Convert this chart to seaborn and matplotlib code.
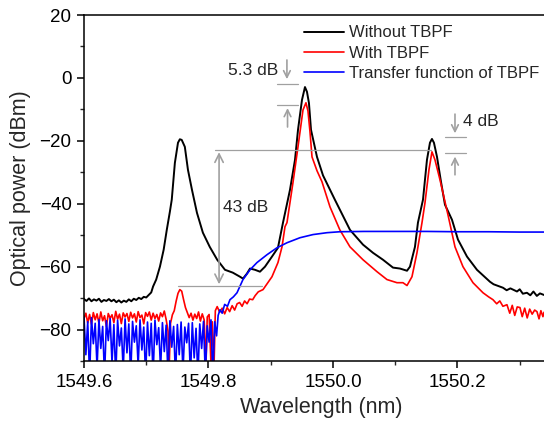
#!/usr/bin/env python3
"""
Optical spectra with and without the tunable band-pass filter (TBPF),
plus the TBPF transfer function, with power-difference annotations.
"""

import matplotlib.pyplot as plt
from matplotlib.ticker import MultipleLocator
import seaborn as sns

# ---- data ----
wl_black = [
    1549.600, 1549.604, 1549.608, 1549.612, 1549.616, 1549.620, 1549.624, 1549.628,
    1549.632, 1549.636, 1549.640, 1549.644, 1549.648, 1549.652, 1549.656, 1549.660,
    1549.664, 1549.668, 1549.672, 1549.676, 1549.680, 1549.684, 1549.688, 1549.692,
    1549.696, 1549.700, 1549.704, 1549.708, 1549.711, 1549.716, 1549.722, 1549.728,
    1549.733, 1549.738, 1549.741, 1549.746, 1549.751, 1549.754, 1549.757, 1549.762,
    1549.767, 1549.7735, 1549.7815, 1549.791, 1549.802, 1549.814, 1549.8265, 1549.839,
    1549.8506, 1549.8554, 1549.8618, 1549.8667, 1549.8747, 1549.8827, 1549.8908, 1549.902,
    1549.9116, 1549.9197, 1549.9309, 1549.939, 1549.9438, 1549.9502, 1549.955, 1549.9582,
    1549.9614, 1549.9647, 1549.9743, 1549.984, 1550.003, 1550.0273, 1550.0482, 1550.0643,
    1550.0803, 1550.0964, 1550.1076, 1550.1189, 1550.1237, 1550.1317, 1550.1365, 1550.1446,
    1550.151, 1550.1558, 1550.159, 1550.1622, 1550.1671, 1550.1735, 1550.1799, 1550.1912,
    1550.2008, 1550.2153, 1550.2313, 1550.2522, 1550.258, 1550.2731, 1550.279, 1550.285,
    1550.2956, 1550.300, 1550.305, 1550.3116, 1550.317, 1550.322, 1550.3275, 1550.3325,
    1550.339,
]
p_black = [
    -70.3, -70.9, -70.1, -71.0, -70.4, -70.8, -70.2, -71.2,
    -70.6, -70.9, -70.3, -71.0, -70.5, -71.3, -70.7, -71.4,
    -70.8, -71.2, -70.4, -71.0, -70.2, -70.6, -69.9, -70.3,
    -69.6, -69.8, -69.0, -68.2, -66.3, -64.1, -60.0, -54.6,
    -48.3, -42.5, -38.7, -27.0, -20.6, -19.5, -19.7, -21.9,
    -29.2, -35.6, -42.9, -49.2, -53.7, -57.8, -61.0, -61.9,
    -63.2, -63.8, -62.2, -60.6, -61.0, -61.6, -60.0, -56.8,
    -54.0, -46.0, -35.6, -26.0, -16.5, -7.0, -2.9, -4.4,
    -8.0, -16.5, -25.1, -31.0, -38.7, -48.3, -53.0, -55.6,
    -57.8, -60.3, -60.6, -61.3, -60.0, -53.7, -46.0, -38.7,
    -26.0, -20.6, -19.4, -20.6, -25.1, -33.0, -40.3, -45.1,
    -51.4, -56.8, -61.0, -64.8, -65.6, -66.7, -67.5, -66.9,
    -67.9, -67.2, -68.6, -68.3, -69.1, -67.9, -69.3, -68.5,
    -69.0,
]

wl_red = [
    1549.600, 1549.603, 1549.606, 1549.609, 1549.612, 1549.615, 1549.618, 1549.621,
    1549.624, 1549.627, 1549.630, 1549.633, 1549.636, 1549.639, 1549.642, 1549.645,
    1549.648, 1549.651, 1549.654, 1549.657, 1549.660, 1549.663, 1549.666, 1549.669,
    1549.672, 1549.675, 1549.678, 1549.681, 1549.684, 1549.687, 1549.690, 1549.693,
    1549.696, 1549.699, 1549.702, 1549.705, 1549.708, 1549.711, 1549.714, 1549.717,
    1549.720, 1549.723, 1549.726, 1549.729, 1549.732, 1549.735, 1549.737, 1549.739,
    1549.742, 1549.745, 1549.748, 1549.751, 1549.754, 1549.757, 1549.760, 1549.763,
    1549.766, 1549.769, 1549.772, 1549.775, 1549.778, 1549.781, 1549.784, 1549.787,
    1549.790, 1549.793, 1549.796, 1549.798, 1549.801, 1549.804, 1549.806, 1549.809,
    1549.811, 1549.814, 1549.818, 1549.822, 1549.826, 1549.830, 1549.834, 1549.838,
    1549.842, 1549.846, 1549.850, 1549.854, 1549.858, 1549.862, 1549.866, 1549.871,
    1549.875, 1549.880, 1549.8876, 1549.894, 1549.902, 1549.9116, 1549.9181, 1549.9229,
    1549.9261, 1549.9357, 1549.9438, 1549.9518, 1549.9566, 1549.9598, 1549.963, 1549.9663,
    1549.9743, 1549.9823, 1549.9952, 1550.011, 1550.0273, 1550.0482, 1550.0707, 1550.0867,
    1550.1028, 1550.1124, 1550.1189, 1550.1269, 1550.1349, 1550.143, 1550.1478, 1550.1542,
    1550.159, 1550.1638, 1550.1719, 1550.1847, 1550.196, 1550.2088, 1550.2249, 1550.241,
    1550.250, 1550.257, 1550.263, 1550.268, 1550.273, 1550.2795, 1550.284, 1550.288,
    1550.292, 1550.296, 1550.3004, 1550.304, 1550.308, 1550.312, 1550.316, 1550.320,
    1550.324, 1550.3277, 1550.331, 1550.334, 1550.3373, 1550.339,
]
p_red = [
    -76.5, -74.8, -77.9, -75.2, -78.3, -74.6, -76.9, -75.0,
    -78.0, -74.4, -77.2, -75.6, -79.0, -74.9, -76.4, -75.3,
    -77.8, -74.2, -76.7, -75.1, -78.1, -74.7, -76.0, -74.9,
    -77.4, -74.5, -76.3, -75.0, -77.6, -74.3, -76.2, -75.4,
    -78.2, -74.6, -75.8, -74.4, -77.0, -74.8, -76.5, -75.2,
    -77.3, -74.7, -75.9, -74.1, -76.8, -80.5, -91.0, -78.0,
    -75.3, -74.0, -71.0, -68.5, -67.3, -67.8, -70.5, -73.0,
    -74.6, -76.2, -74.8, -77.0, -75.1, -76.5, -74.4, -77.3,
    -75.0, -76.9, -91.0, -76.0, -75.2, -91.0, -77.5, -91.0,
    -74.0, -72.7, -74.5, -73.2, -75.0, -73.0, -74.3, -72.4,
    -73.8, -71.8, -71.4, -72.6, -70.9, -71.8, -70.3, -70.5,
    -69.2, -68.0, -67.3, -65.5, -63.2, -58.7, -53.7, -47.3,
    -46.0, -33.3, -21.9, -10.2, -7.9, -10.5, -17.0, -25.1,
    -29.5, -33.0, -41.0, -48.3, -53.7, -57.8, -61.6, -64.1,
    -65.1, -65.1, -66.0, -63.2, -55.6, -46.0, -39.7, -29.2,
    -23.5, -26.0, -32.4, -43.5, -53.7, -60.0, -65.1, -68.3,
    -69.6, -70.5, -71.8, -70.9, -72.6, -72.1, -74.8, -72.3,
    -75.5, -72.8, -73.0, -75.9, -73.2, -76.3, -73.5, -75.1,
    -73.8, -74.3, -76.6, -74.0, -75.9, -74.5,
]

wl_blue = [
    1549.600, 1549.603, 1549.606, 1549.609, 1549.612, 1549.615, 1549.618, 1549.621,
    1549.624, 1549.627, 1549.630, 1549.633, 1549.636, 1549.639, 1549.642, 1549.645,
    1549.648, 1549.651, 1549.654, 1549.657, 1549.660, 1549.663, 1549.666, 1549.669,
    1549.672, 1549.675, 1549.678, 1549.681, 1549.684, 1549.687, 1549.690, 1549.693,
    1549.696, 1549.699, 1549.702, 1549.705, 1549.708, 1549.711, 1549.714, 1549.717,
    1549.720, 1549.723, 1549.726, 1549.729, 1549.732, 1549.735, 1549.738, 1549.741,
    1549.744, 1549.747, 1549.750, 1549.753, 1549.756, 1549.759, 1549.762, 1549.765,
    1549.768, 1549.771, 1549.774, 1549.777, 1549.780, 1549.783, 1549.786, 1549.789,
    1549.792, 1549.795, 1549.798, 1549.801, 1549.804, 1549.807, 1549.810, 1549.813,
    1549.8155, 1549.8185, 1549.822, 1549.826, 1549.8305, 1549.8345, 1549.840, 1549.8458,
    1549.8554, 1549.8667, 1549.8779, 1549.894, 1549.910, 1549.9261, 1549.947, 1549.9679,
    1549.9904, 1550.0112, 1550.050, 1550.100, 1550.150, 1550.200, 1550.250, 1550.300,
    1550.339,
]
p_blue = [
    -76.0, -88.0, -77.5, -95.0, -76.2, -84.5, -78.0, -92.0,
    -76.8, -86.0, -79.0, -95.0, -77.2, -83.5, -76.5, -90.5,
    -78.4, -95.0, -77.0, -85.2, -79.5, -93.0, -76.6, -87.4,
    -78.2, -95.0, -77.4, -84.0, -78.8, -91.5, -76.9, -86.5,
    -79.2, -95.0, -77.6, -88.3, -78.0, -95.0, -77.0, -84.8,
    -79.4, -92.5, -77.8, -87.0, -78.6, -95.0, -77.2, -85.6,
    -79.0, -95.0, -78.4, -88.0, -77.6, -93.5, -79.2, -84.2,
    -78.0, -95.0, -77.8, -89.0, -79.6, -95.0, -78.2, -86.0,
    -77.4, -95.0, -78.8, -84.0, -76.9, -95.0, -77.5, -82.0,
    -75.5, -73.7, -74.8, -72.0, -72.6, -70.5, -69.6, -68.3,
    -64.1, -61.0, -58.7, -56.2, -54.0, -52.4, -50.8, -49.8,
    -49.2, -48.9, -48.8, -48.8, -48.8, -48.9, -48.9, -49.0,
    -49.0,
]

series_labels = ["Without TBPF", "With TBPF", "Transfer function of TBPF"]
series_colors = ["#000000", "#ff0000", "#0000ff"]

GRAY = "#a0a0a0"


def create_figure():
    sns.set_theme(style="ticks")
    plt.rcParams["font.family"] = ["Liberation Sans", "DejaVu Sans"]

    fig = plt.figure(figsize=(5.44, 4.22), dpi=100)
    ax = fig.add_axes([0.1544, 0.1445, 0.8456, 0.8199])

    series = [(wl_black, p_black), (wl_red, p_red), (wl_blue, p_blue)]
    widths = [1.4, 1.2, 1.2]
    for (x, y), lab, col, lw in zip(series, series_labels, series_colors, widths):
        sns.lineplot(x=x, y=y, ax=ax, color=col, lw=lw, label=lab,
                     estimator=None, sort=False)

    ax.set_xlim(1549.6, 1550.339)
    ax.set_ylim(-90, 20)
    ax.xaxis.set_major_locator(MultipleLocator(0.2))
    ax.xaxis.set_minor_locator(MultipleLocator(0.1))
    ax.yaxis.set_major_locator(MultipleLocator(20))
    ax.yaxis.set_minor_locator(MultipleLocator(10))
    ax.set_xticks([1549.6, 1549.8, 1550.0, 1550.2])
    ax.set_xticklabels(["1549.6", "1549.8", "1550.0", "1550.2"])

    ax.tick_params(which="major", direction="out", length=5, width=1.1,
                   labelsize=13.5, pad=4, colors="black")
    ax.tick_params(which="minor", direction="out", length=3, width=1.0)
    for side in ["left", "bottom", "top"]:
        ax.spines[side].set_linewidth(1.1)
        ax.spines[side].set_color("black")
    ax.spines["right"].set_visible(False)

    ax.set_xlabel("Wavelength (nm)", fontsize=15.5, labelpad=1)
    ax.xaxis.set_label_coords(0.515, -0.105)
    ax.set_ylabel("Optical power (dBm)", fontsize=15.5, labelpad=6)

    # --- annotations ---
    ax.plot([1549.810, 1550.158], [-23.0, -23.0], color=GRAY, lw=0.9)
    ax.plot([1549.751, 1549.886], [-66.3, -66.3], color=GRAY, lw=0.9)
    ax.annotate("", xy=(1549.817, -23.6), xytext=(1549.817, -65.6),
                arrowprops=dict(arrowstyle="<->,head_length=0.5,head_width=0.25",
                                color=GRAY, lw=1.2, shrinkA=0, shrinkB=0))
    ax.text(1549.823, -41.2, "43 dB", fontsize=12.5, va="center", ha="left")

    # 5.3 dB marker
    ax.plot([1549.910, 1549.944], [-1.9, -1.9], color=GRAY, lw=0.9)
    ax.plot([1549.910, 1549.944], [-8.6, -8.6], color=GRAY, lw=0.9)
    ax.annotate("", xy=(1549.926, -0.4), xytext=(1549.926, 5.7),
                arrowprops=dict(arrowstyle="->,head_length=0.4,head_width=0.2",
                                color=GRAY, lw=1.2, shrinkA=0, shrinkB=0))
    ax.annotate("", xy=(1549.927, -9.6), xytext=(1549.927, -15.6),
                arrowprops=dict(arrowstyle="->,head_length=0.4,head_width=0.2",
                                color=GRAY, lw=1.2, shrinkA=0, shrinkB=0))
    ax.text(1549.831, 2.5, "5.3 dB", fontsize=12.5, va="center", ha="left")

    # 4 dB marker
    ax.plot([1550.180, 1550.214], [-18.7, -18.7], color=GRAY, lw=0.9)
    ax.plot([1550.180, 1550.214], [-23.8, -23.8], color=GRAY, lw=0.9)
    ax.annotate("", xy=(1550.196, -17.6), xytext=(1550.196, -11.5),
                arrowprops=dict(arrowstyle="->,head_length=0.4,head_width=0.2",
                                color=GRAY, lw=1.2, shrinkA=0, shrinkB=0))
    ax.annotate("", xy=(1550.196, -25.0), xytext=(1550.196, -30.8),
                arrowprops=dict(arrowstyle="->,head_length=0.4,head_width=0.2",
                                color=GRAY, lw=1.2, shrinkA=0, shrinkB=0))
    ax.text(1550.209, -13.8, "4 dB", fontsize=12.5, va="center", ha="left")

    ax.legend(loc="upper left", bbox_to_anchor=(0.478, 0.97), frameon=False,
              fontsize=12, handlelength=2.4, handletextpad=0.3,
              labelspacing=0.32, borderpad=0, borderaxespad=0)
    return fig


def main():
    fig = create_figure()
    fig.savefig("out.png", dpi=100, facecolor="white")
    plt.close(fig)


if __name__ == "__main__":
    main()
